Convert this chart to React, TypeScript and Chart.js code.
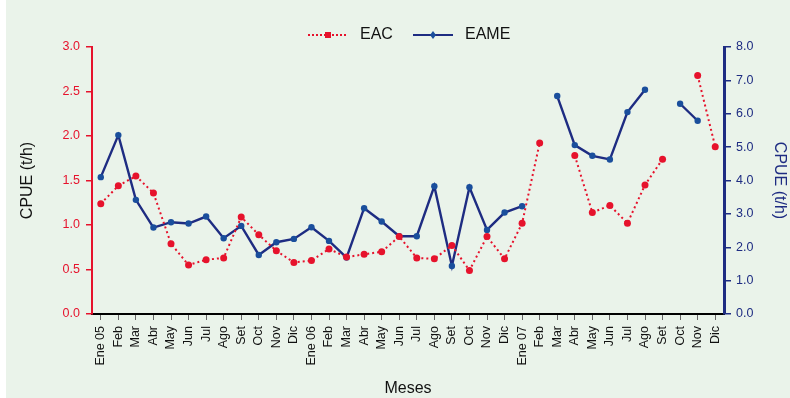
import React, { useEffect, useRef } from 'react';
import { Chart, registerables } from 'chart.js';

Chart.register(...registerables);

const months: string[] = [
  'Ene 05', 'Feb', 'Mar', 'Abr', 'May', 'Jun', 'Jul', 'Ago', 'Set', 'Oct', 'Nov', 'Dic',
  'Ene 06', 'Feb', 'Mar', 'Abr', 'May', 'Jun', 'Jul', 'Ago', 'Set', 'Oct', 'Nov', 'Dic',
  'Ene 07', 'Feb', 'Mar', 'Abr', 'May', 'Jun', 'Jul', 'Ago', 'Set', 'Oct', 'Nov', 'Dic',
];

// EAC – left axis (t/h)
const eac: (number | null)[] = [
  1.24, 1.44, 1.55, 1.36, 0.79, 0.55, 0.61, 0.63, 1.09, 0.89, 0.71, 0.58,
  0.60, 0.73, 0.64, 0.67, 0.70, 0.87, 0.63, 0.62, 0.77, 0.49, 0.87, 0.62,
  1.02, 1.92, null, 1.78, 1.14, 1.22, 1.02, 1.45, 1.74, null, 2.68, 1.88,
];

// EAME – right axis (t/h)
const eame: (number | null)[] = [
  4.10, 5.36, 3.42, 2.59, 2.75, 2.71, 2.92, 2.27, 2.64, 1.77, 2.15, 2.25,
  2.60, 2.19, 1.69, 3.17, 2.77, 2.33, 2.33, 3.83, 1.44, 3.80, 2.52, 3.04,
  3.23, null, 6.53, 5.06, 4.74, 4.63, 6.05, 6.72, null, 6.30, 5.79, null,
];

const seriesNames = ['EAC', 'EAME'];
const axisTitle = 'CPUE (t/h)';
const xTitle = 'Meses';

const RED = '#E6122C';
const NAVY = '#1E2C82';
const BLUE_PT = '#1A4E9C';
const BG = '#EAF3EA';

const bgPlugin = {
  id: 'bgFill',
  beforeDraw(chart: any) {
    const { ctx, width, height } = chart;
    ctx.save();
    ctx.fillStyle = '#FFFFFF';
    ctx.fillRect(0, 0, width, height);
    ctx.fillStyle = BG;
    ctx.fillRect(6, 0, width - 6, height);
    ctx.restore();
  },
};

const legendPlugin = {
  id: 'customLegend',
  afterDraw(chart: any) {
    const { ctx } = chart;
    const y = 35;
    ctx.save();
    // EAC
    ctx.strokeStyle = RED;
    ctx.lineWidth = 2;
    ctx.setLineDash([2, 2]);
    ctx.beginPath();
    ctx.moveTo(308, y);
    ctx.lineTo(347, y);
    ctx.stroke();
    ctx.setLineDash([]);
    ctx.fillStyle = RED;
    ctx.fillRect(325, y - 3, 6, 6);
    // EAME
    ctx.strokeStyle = NAVY;
    ctx.lineWidth = 2;
    ctx.beginPath();
    ctx.moveTo(413, y);
    ctx.lineTo(453, y);
    ctx.stroke();
    ctx.fillStyle = BLUE_PT;
    ctx.beginPath();
    ctx.moveTo(433, y - 4);
    ctx.lineTo(436, y);
    ctx.lineTo(433, y + 4);
    ctx.lineTo(430, y);
    ctx.closePath();
    ctx.fill();
    ctx.fillStyle = '#111';
    ctx.font = '16px "Liberation Sans", Arial, sans-serif';
    ctx.textBaseline = 'middle';
    ctx.textAlign = 'left';
    ctx.fillText(seriesNames[0], 360, y);
    ctx.fillText(seriesNames[1], 465, y);
    ctx.restore();
  },
};

export default function App() {
  const ref = useRef<HTMLCanvasElement | null>(null);

  useEffect(() => {
    document.body.style.margin = '0';
    if (!ref.current) return;
    const font = '"Liberation Sans", Arial, sans-serif';
    const chart = new Chart(ref.current, {
      type: 'line',
      data: {
        labels: months,
        datasets: [
          {
            label: seriesNames[0],
            data: eac,
            yAxisID: 'y',
            borderColor: RED,
            backgroundColor: RED,
            borderWidth: 2,
            borderDash: [2, 3],
            pointRadius: 3.5,
            pointStyle: 'circle',
            pointBorderWidth: 0,
            pointBackgroundColor: RED,
            spanGaps: false,
            tension: 0,
          },
          {
            label: seriesNames[1],
            data: eame,
            yAxisID: 'y2',
            borderColor: NAVY,
            backgroundColor: BLUE_PT,
            borderWidth: 2.4,
            pointRadius: 3.2,
            pointStyle: 'circle',
            pointBorderWidth: 0,
            pointBackgroundColor: BLUE_PT,
            spanGaps: false,
            tension: 0,
          },
        ],
      },
      options: {
        animation: false,
        responsive: true,
        maintainAspectRatio: false,
        layout: { padding: { left: 6, right: 0, top: 47, bottom: 0 } },
        plugins: {
          legend: { display: false },
          tooltip: { enabled: false },
        },
        scales: {
          x: {
            type: 'category',
            offset: true,
            grid: {
              display: true,
              drawOnChartArea: false,
              drawTicks: true,
              tickLength: 6,
              color: '#666',
              lineWidth: 1,
            },
            border: { display: true, color: '#000', width: 2 },
            ticks: {
              autoSkip: false,
              minRotation: 90,
              maxRotation: 90,
              padding: 6,
              color: '#111',
              font: { family: font, size: 12.5 },
            },
            title: {
              display: true,
              text: xTitle,
              color: '#111',
              font: { family: font, size: 16 },
              padding: { top: 0, bottom: 0 },
            },
            afterFit: (s: any) => { s.height = 84; },
          },
          y: {
            position: 'left',
            min: 0,
            max: 3,
            ticks: {
              stepSize: 0.5,
              color: RED,
              padding: 6,
              font: { family: font, size: 12.5 },
              callback: (v: any) => Number(v).toFixed(1),
            },
            grid: {
              drawOnChartArea: false,
              drawTicks: true,
              tickLength: 6,
              color: RED,
              lineWidth: 1.5,
            },
            border: { display: true, color: RED, width: 2 },
            title: {
              display: true,
              text: axisTitle,
              color: '#111',
              font: { family: font, size: 16 },
              padding: { top: 12, bottom: 0 },
            },
            afterFit: (s: any) => { s.width = 86; },
          },
          y2: {
            position: 'right',
            min: 0,
            max: 8,
            ticks: {
              stepSize: 1,
              color: NAVY,
              padding: 5,
              font: { family: font, size: 12.5 },
              callback: (v: any) => Number(v).toFixed(1),
            },
            grid: {
              drawOnChartArea: false,
              drawTicks: true,
              tickLength: 7,
              color: NAVY,
              lineWidth: 1.5,
            },
            border: { display: true, color: NAVY, width: 3 },
            title: {
              display: true,
              text: axisTitle,
              color: NAVY,
              font: { family: font, size: 16 },
              padding: { top: 1, bottom: 0 },
            },
            afterFit: (s: any) => { s.width = 66; },
          },
        },
      },
      plugins: [bgPlugin, legendPlugin],
    });
    return () => chart.destroy();
  }, []);

  return (
    <div style={{ position: 'fixed', left: 0, top: 0, width: 790, height: 398 }}>
      <canvas ref={ref} />
    </div>
  );
}
